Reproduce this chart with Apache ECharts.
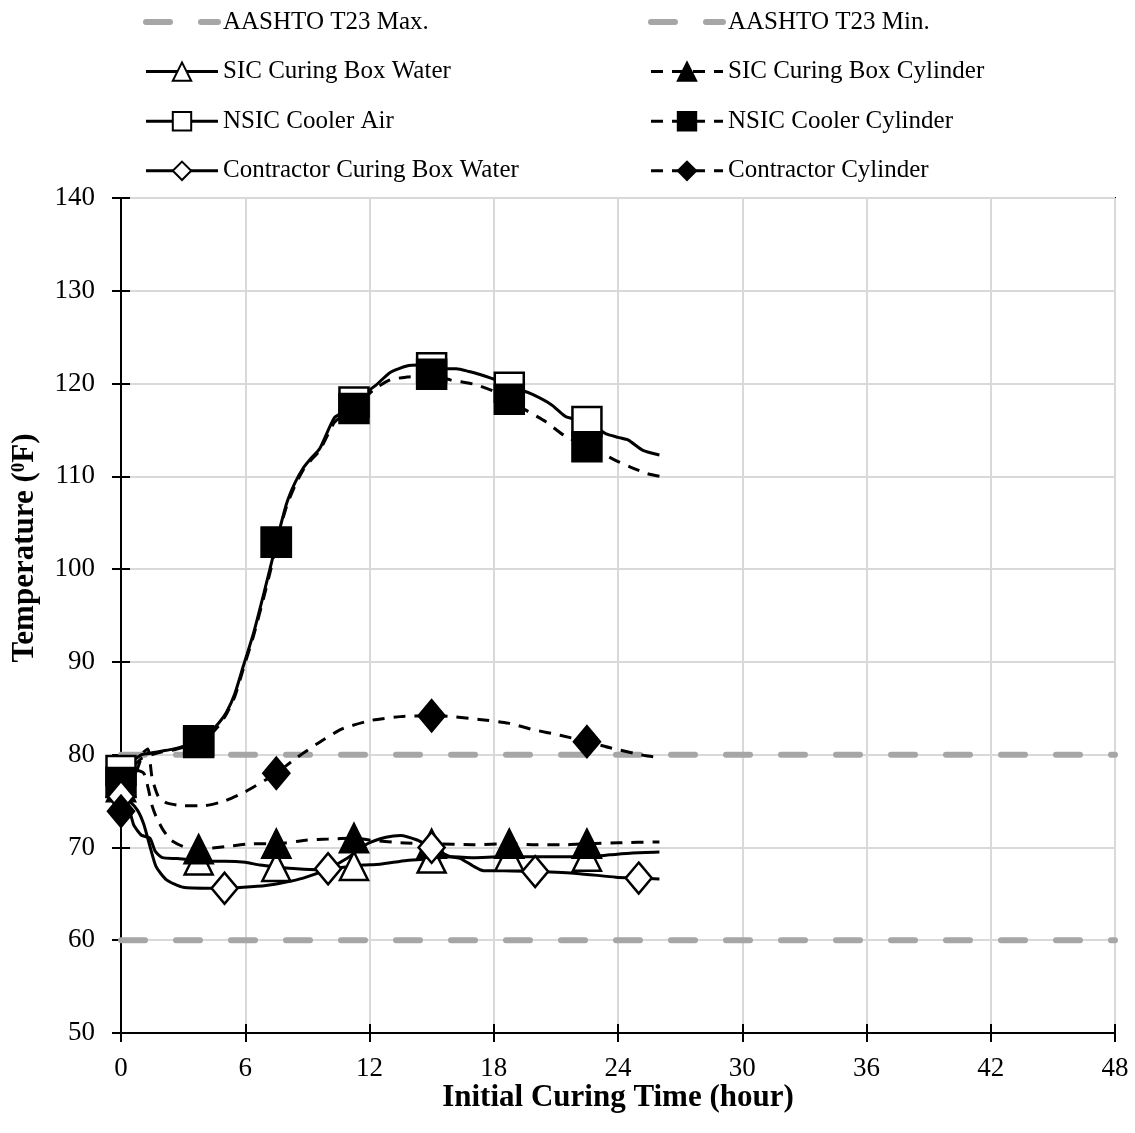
<!DOCTYPE html>
<html>
<head>
<meta charset="utf-8">
<script src="https://cdn.jsdelivr.net/npm/echarts@6/dist/echarts.min.js"></script>
<style>
html,body{margin:0;padding:0;background:#fff;}
#chart{width:1135px;height:1133px;}
</style>
</head>
<body>
<div id="chart"></div>
<script>
// ---- data ----
const xTicks = [0, 6, 12, 18, 24, 30, 36, 42, 48];
const yTicks = [50, 60, 70, 80, 90, 100, 110, 120, 130, 140];

const limitHours = [0, 48];
const aashtoMax = [80, 80];
const aashtoMin = [60, 60];

const sicWaterT = [0, 0.3, 0.6, 0.8, 1.0, 1.4, 1.65, 2.0, 2.7, 3.75, 4.3, 5.0, 6.0, 6.7, 7.5, 8.5, 9.6, 10.5, 11.25, 11.7, 12.5, 13.8, 15, 16, 17, 18.4, 18.75, 20, 21.2, 22.5, 23.6, 24.7, 26.0];
const sicWaterV = [77.0, 75.0, 72.5, 71.8, 71.3, 71.0, 69.6, 68.9, 68.8, 68.6, 68.5, 68.5, 68.4, 68.1, 67.9, 67.7, 67.6, 67.8, 68.0, 68.1, 68.2, 68.6, 68.8, 69.0, 68.9, 69.0, 69.0, 69.0, 69.0, 69.0, 69.2, 69.4, 69.5];
const sicWaterMarks = [0, 3.75, 7.5, 11.25, 15, 18.75, 22.5];

const sicCylT = [0, 0.4, 0.8, 1.1, 1.3, 1.5, 1.7, 2.0, 2.4, 3.0, 3.75, 5.1, 6.4, 7.5, 9.0, 10.0, 11.25, 12.0, 13.5, 15, 17, 18.75, 20, 21.5, 22.5, 24, 26];
const sicCylV = [76.5, 77.5, 78.3, 78.0, 76.5, 74.5, 73.3, 72.0, 70.8, 70.1, 69.8, 70.1, 70.4, 70.4, 70.8, 70.9, 71.0, 70.8, 70.5, 70.4, 70.3, 70.4, 70.3, 70.3, 70.4, 70.5, 70.6];
const sicCylMarks = [0, 3.75, 7.5, 11.25, 15, 18.75, 22.5];

const nsicAirT = [0, 0.5, 1, 1.5, 2, 2.5, 3, 3.75, 4.25, 4.75, 5.1, 5.5, 5.9, 6.4, 6.9, 7.3, 7.5, 8.0, 8.4, 8.8, 9.2, 9.6, 10.3, 10.8, 11.25, 11.7, 12.3, 13.0, 13.8, 14.4, 15, 15.6, 16.2, 16.8, 17.3, 18.2, 18.75, 19.3, 19.9, 20.8, 21.5, 22.5, 23.0, 23.4, 24.0, 24.5, 25.2, 26.0];
const nsicAirV = [78.3, 79.2, 80.0, 80.2, 80.4, 80.6, 80.9, 81.5, 82.3, 83.5, 84.6, 86.6, 89.5, 93.1, 97.4, 101.0, 102.9, 107.1, 109.3, 110.9, 112.0, 113.0, 116.3, 117.0, 118.0, 118.8, 119.8, 121.2, 121.9, 122.0, 121.7, 121.6, 121.6, 121.3, 121.0, 120.3, 119.6, 119.3, 118.8, 117.7, 116.4, 115.9, 115.2, 114.6, 114.2, 113.9, 112.8, 112.3];
const nsicAirMarks = [0, 3.75, 7.5, 11.25, 15, 18.75, 22.5];

const nsicCylT = [0, 0.5, 1, 1.5, 2, 2.5, 3, 3.75, 4.25, 4.75, 5.1, 5.5, 5.9, 6.4, 6.9, 7.3, 7.5, 8.0, 8.4, 8.8, 9.2, 9.6, 10.3, 10.8, 11.25, 11.7, 12.3, 13.0, 13.8, 14.4, 15, 15.9, 17.1, 18.2, 18.75, 19.5, 20.5, 21.4, 22.5, 23.2, 23.9, 24.6, 25.4, 26.0];
const nsicCylV = [77.0, 78.5, 79.6, 80.0, 80.3, 80.5, 80.8, 81.3, 82.0, 83.2, 84.4, 86.3, 89.2, 92.8, 97.0, 100.6, 102.9, 106.8, 109.0, 110.7, 111.8, 112.8, 115.8, 116.7, 117.3, 118.3, 119.5, 120.4, 120.7, 120.8, 121.0, 120.4, 119.9, 119.0, 118.3, 117.2, 115.9, 114.4, 113.2, 112.5, 111.7, 111.0, 110.3, 110.0];
const nsicCylMarks = [0, 3.75, 7.5, 11.25, 15, 18.75, 22.5];

const conWaterT = [0, 0.4, 0.8, 1.1, 1.4, 1.7, 2.2, 3.0, 4.3, 5, 5.9, 7.0, 7.8, 8.8, 10, 10.9, 11.9, 12.8, 13.5, 14.3, 15, 15.9, 16.4, 17.0, 17.5, 18.5, 20, 22, 23.9, 25, 26];
const conWaterV = [75.5, 75.0, 74.0, 72.5, 70.1, 67.9, 66.5, 65.7, 65.6, 65.6, 65.7, 65.9, 66.2, 66.7, 67.7, 68.8, 70.4, 71.1, 71.3, 70.8, 70.0, 69.0, 68.8, 68.0, 67.5, 67.5, 67.4, 67.2, 66.8, 66.7, 66.6];
const conWaterMarks = [0, 5, 10, 15, 20, 25];

const conCylT = [0, 0.4, 0.8, 1.1, 1.3, 1.5, 1.8, 2.2, 3, 4, 5, 6, 7, 7.5, 8.5, 9.7, 10.7, 12.1, 13.5, 15, 16, 17.3, 18.7, 19.9, 21.2, 22.5, 23.7, 25.3, 26];
const conCylV = [73.9, 76.0, 78.5, 80.3, 80.6, 77.5, 75.5, 74.8, 74.5, 74.5, 75.0, 76.0, 77.3, 78.0, 79.7, 81.5, 82.8, 83.7, 84.1, 84.2, 84.1, 83.8, 83.4, 82.7, 82.1, 81.4, 80.7, 79.9, 79.7];
const conCylMarks = [0, 7.5, 15, 22.5];

// ---- build ----
const FONT = '"Liberation Serif", "Times New Roman", serif';
function pts(t, v, marks) {
  return t.map((x, i) => {
    const d = { value: [x, v[i]] };
    if (marks.indexOf(x) < 0) d.symbol = 'none';
    return d;
  });
}
function seriesOf(name, t, v, marks, symbol, size, filled, dashed) {
  return {
    name: name, type: 'line', data: pts(t, v, marks),
    symbol: symbol, symbolSize: size, showAllSymbol: true, smooth: 0.2,
    lineStyle: { color: '#000', width: 3, type: dashed ? [12, 9] : 'solid' },
    itemStyle: { color: filled ? '#000' : '#fff', borderColor: '#000', borderWidth: 2.5 },
    z: 3
  };
}
function limitSeries(name, vals) {
  return {
    name: name, type: 'line', symbol: 'none',
    data: limitHours.map((h, i) => [h, vals[i]]),
    lineStyle: { color: '#a6a6a6', width: 6, type: [24, 31], cap: 'round' },
    itemStyle: { color: '#a6a6a6' }, z: 2
  };
}

const series = [
  limitSeries('AASHTO T23 Max.', aashtoMax),
  limitSeries('AASHTO T23 Min.', aashtoMin),
  seriesOf('SIC Curing Box Water', sicWaterT, sicWaterV, sicWaterMarks, 'triangle', 28, false, false),
  seriesOf('SIC Curing Box Cylinder', sicCylT, sicCylV, sicCylMarks, 'triangle', 28, true, true),
  seriesOf('NSIC Cooler Air', nsicAirT, nsicAirV, nsicAirMarks, 'rect', 29, false, false),
  seriesOf('NSIC Cooler Cylinder', nsicCylT, nsicCylV, nsicCylMarks, 'rect', 29, true, true),
  seriesOf('Contractor Curing Box Water', conWaterT, conWaterV, conWaterMarks, 'diamond', [26, 31], false, false),
  seriesOf('Contractor Cylinder', conCylT, conCylV, conCylMarks, 'diamond', [26, 31], true, true)
];

const hiddenSym = { color: 'transparent', borderColor: 'transparent', borderWidth: 0, opacity: 0 };
const legendCommon = {
  orient: 'vertical', itemWidth: 72, itemHeight: 23, itemGap: 19.6,
  textStyle: { fontFamily: FONT, fontSize: 25, color: '#000', lineHeight: 30 },
  lineStyle: { width: 'inherit' },
  inactiveColor: '#000'
};

const option = {
  animation: false,
  backgroundColor: '#fff',
  legend: [
    Object.assign({ left: 138, top: 2, data: [{ name: 'AASHTO T23 Max.', itemStyle: hiddenSym }, 'SIC Curing Box Water', 'NSIC Cooler Air', 'Contractor Curing Box Water'] }, legendCommon),
    Object.assign({ left: 643, top: 2, data: [{ name: 'AASHTO T23 Min.', itemStyle: hiddenSym }, 'SIC Curing Box Cylinder', 'NSIC Cooler Cylinder', 'Contractor Cylinder'] }, legendCommon)
  ],
  grid: { left: 121, right: 20, top: 198, bottom: 100, show: true, borderColor: '#000', borderWidth: 2, backgroundColor: 'transparent', outerBoundsMode: 'none', containLabel: false },
  xAxis: [{
    type: 'value', min: xTicks[0], max: xTicks[xTicks.length - 1], interval: 6,
    name: 'Initial Curing Time (hour)', nameLocation: 'middle', nameGap: 49, nameMoveOverlap: false,
    nameTextStyle: { fontFamily: FONT, fontSize: 31, fontWeight: 'bold', color: '#000', verticalAlign: 'top' },
    axisLine: { lineStyle: { color: '#000', width: 2 } },
    axisTick: { show: true, length: 9, lineStyle: { color: '#000', width: 2 } },
    axisLabel: { fontFamily: FONT, fontSize: 27, color: '#000', margin: 22 },
    splitLine: { show: true, lineStyle: { color: '#d9d9d9', width: 2 } }
  }, {
    type: 'value', position: 'bottom', offset: 0, min: xTicks[0], max: xTicks[xTicks.length - 1], interval: 6,
    axisLine: { show: true, lineStyle: { color: '#000', width: 2 } }, axisTick: { show: true, inside: true, length: 9, lineStyle: { color: '#000', width: 2 } },
    axisLabel: { show: false }, splitLine: { show: false }
  }],
  yAxis: [{
    type: 'value', min: yTicks[0], max: yTicks[yTicks.length - 1], interval: 10,
    axisLine: { lineStyle: { color: '#000', width: 2 } },
    axisTick: { show: true, length: 9, lineStyle: { color: '#000', width: 2 } },
    axisLabel: { fontFamily: FONT, fontSize: 27, color: '#000', margin: 26 },
    splitLine: { show: true, lineStyle: { color: '#d9d9d9', width: 2 } }
  }, {
    type: 'value', position: 'left', offset: 0, min: yTicks[0], max: yTicks[yTicks.length - 1], interval: 10,
    axisLine: { show: true, lineStyle: { color: '#000', width: 2 } }, axisTick: { show: true, inside: true, length: 9, lineStyle: { color: '#000', width: 2 } },
    axisLabel: { show: false }, splitLine: { show: false }
  }],
  graphic: [{
    type: 'text', x: 25, y: 548, rotation: Math.PI / 2,
    style: {
      text: 'Temperature ({sup|0}F)', font: 'bold 31px ' + FONT, fill: '#000',
      align: 'center', verticalAlign: 'middle',
      rich: { sup: { font: 'bold 19px ' + FONT, fill: '#000', verticalAlign: 'top', padding: [0, 0, 12, 0] } }
    }
  }],
  series: series
};

const chart = echarts.init(document.getElementById('chart'), null, { renderer: 'canvas' });
chart.setOption(option);
</script>
</body>
</html>
